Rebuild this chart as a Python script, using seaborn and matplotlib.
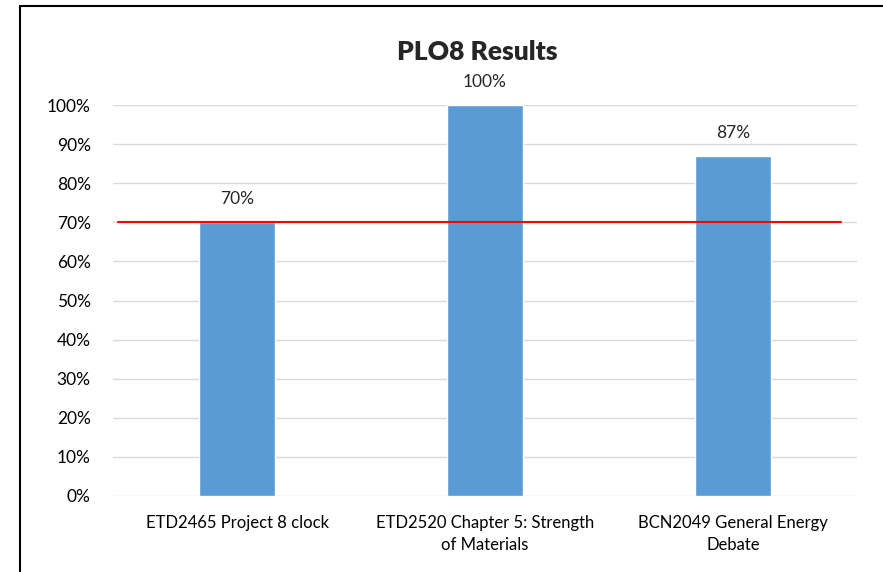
import matplotlib
matplotlib.use("Agg")
import matplotlib.pyplot as plt
import seaborn as sns
import pandas as pd
from matplotlib.lines import Line2D
from matplotlib.ticker import PercentFormatter

courses = ["ETD2465 Project 8 clock",
           "ETD2520 Chapter 5: Strength\nof Materials",
           "BCN2049 General Energy\nDebate"]
results = [0.70, 1.00, 0.87]
target = 0.70

df = pd.DataFrame({"course": courses, "result": results})

sns.set_theme(style="white")
plt.rcParams["font.family"] = ["Lato", "DejaVu Sans"]

fig = plt.figure(figsize=(8.83, 5.72), dpi=100)
ax = fig.add_axes([0.128, 0.1329, 0.8426, 0.6835])

sns.barplot(data=df, x="course", y="result", color="#5B9BD5", width=0.31,
            saturation=1, ax=ax, zorder=2)

ax.set_ylim(0, 1)
ax.set_yticks([i / 10 for i in range(11)])
ax.yaxis.set_major_formatter(PercentFormatter(1.0, decimals=0))
ax.grid(axis="y", color="#D9D9D9", linewidth=1, zorder=0)
ax.set_axisbelow(True)
for s in ax.spines.values():
    s.set_visible(False)
ax.tick_params(axis="y", length=0, pad=16, labelsize=12.5, colors="black")
ax.tick_params(axis="x", length=0, pad=14, labelsize=12, colors="black")
for lbl in ax.get_xticklabels():
    lbl.set_linespacing(1.45)
ax.set_xlabel("")
ax.set_ylabel("")

# target line
ax.axhline(target, xmin=0.007, xmax=0.979, color="red", linewidth=1.5, zorder=3)

for i, v in enumerate(results):
    ax.text(i, v + 0.038, f"{v:.0%}", ha="center", va="bottom", fontsize=12.5)

fig.text(0.541, 0.909, "PLO8 Results", ha="center", va="center",
         fontsize=19, fontweight="heavy")

# outer frame (left and top edges visible)
fig.add_artist(Line2D([0.0226, 0.0226], [0, 0.99], transform=fig.transFigure,
                      color="black", linewidth=1.5))
fig.add_artist(Line2D([0.0226, 1.0], [0.99, 0.99], transform=fig.transFigure,
                      color="black", linewidth=1.5))

fig.savefig("out.png", dpi=100)
